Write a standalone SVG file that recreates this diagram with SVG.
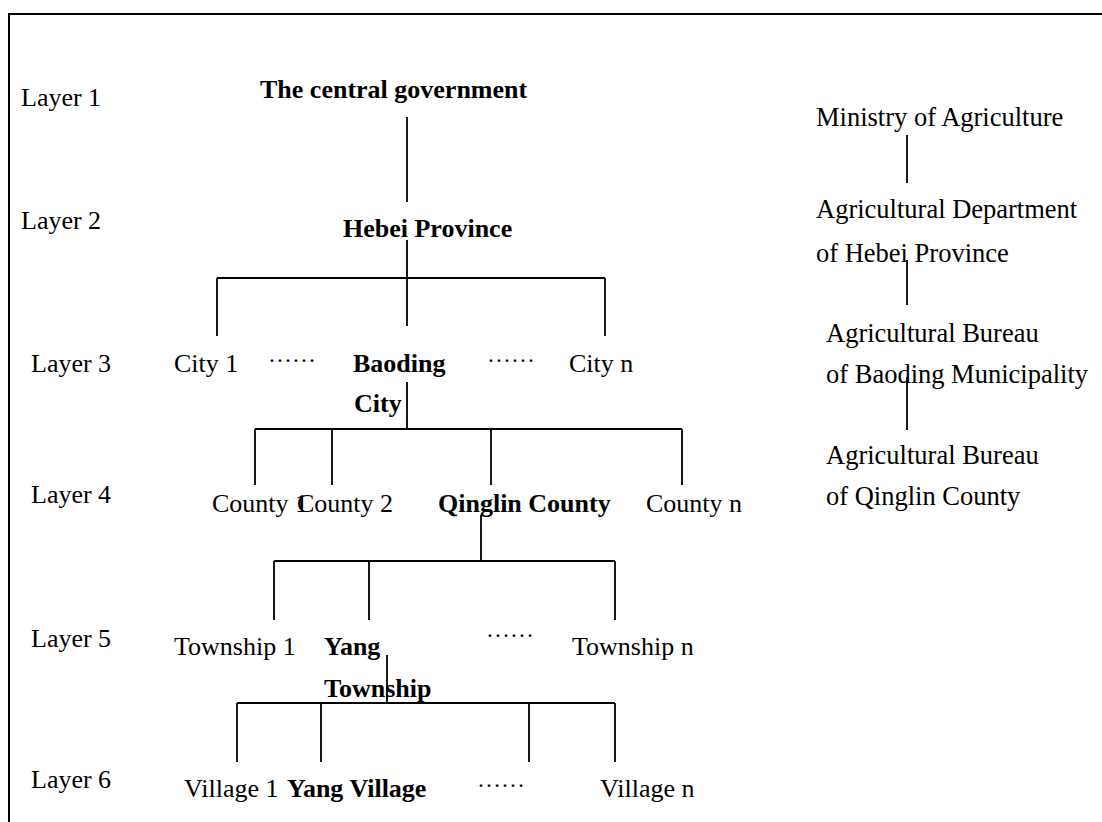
<svg xmlns="http://www.w3.org/2000/svg" width="1102" height="822" viewBox="0 0 1102 822">
<style>
text{font-family:"Liberation Serif","Times New Roman",serif;font-size:26px;fill:#000}
.b{font-weight:bold}
.r{font-size:26.5px}
.dots{font-size:24px}
.ln{stroke:#000;stroke-width:1.8;fill:none}
.frame{stroke:#000;stroke-width:2;fill:none}
</style>
<rect width="1102" height="822" fill="#fff"/>
<path class="frame" d="M9 822 V14 H1102"/>
<g id="layers">
<text x="21" y="106">Layer 1</text>
<text x="21" y="229">Layer 2</text>
<text x="31" y="372">Layer 3</text>
<text x="31" y="503">Layer 4</text>
<text x="31" y="647">Layer 5</text>
<text x="31" y="788">Layer 6</text>
</g>
<g id="connectors">
<path class="ln" d="M407 117 V202"/>
<path class="ln" d="M407 240 V326 M217 278 H605 M217 278 V336 M605 278 V336"/>
<path class="ln" d="M407 382 V429 M255 429 H682 M255 429 V485 M332 429 V485 M491 429 V485 M682 429 V485"/>
<path class="ln" d="M481 515 V561 M274 561 H615 M274 561 V620 M369 561 V620 M615 561 V620"/>
<path class="ln" d="M387 655 V703 M237 703 H615 M237 703 V762 M321 703 V762 M529 703 V762 M615 703 V762"/>
<path class="ln" d="M907 135 V183 M907 260 V305 M907 377 V430"/>
</g>
<g id="central"><text class="b" x="260" y="98">The central government</text></g>
<g id="hebei"><text class="b" x="343" y="237">Hebei Province</text></g>
<g id="city1"><text x="174" y="372">City 1</text></g>
<g id="dots3a"><text class="dots" x="268" y="362">……</text></g>
<g id="baoding"><text class="b" x="353" y="372">Baoding</text><text class="b" x="354" y="412">City</text></g>
<g id="dots3b"><text class="dots" x="487" y="362">……</text></g>
<g id="cityn"><text x="569" y="372">City n</text></g>
<g id="county1"><text x="212" y="512">County 1</text></g>
<g id="county2"><text x="297" y="512">County 2</text></g>
<g id="qinglin"><text class="b" x="438" y="512">Qinglin County</text></g>
<g id="countyn"><text x="646" y="512">County n</text></g>
<g id="township1"><text x="174" y="655">Township 1</text></g>
<g id="yang"><text class="b" x="324" y="655">Yang</text><text class="b" x="324" y="697">Township</text></g>
<g id="dots5"><text class="dots" x="486" y="637">……</text></g>
<g id="townshipn"><text x="572" y="655">Township n</text></g>
<g id="village1"><text x="184" y="797">Village 1</text></g>
<g id="yangvillage"><text class="b" x="287" y="797">Yang Village</text></g>
<g id="dots6"><text class="dots" x="477" y="787">……</text></g>
<g id="villagen"><text x="600" y="797">Village n</text></g>
<g id="ministry"><text class="r" x="816" y="126">Ministry of Agriculture</text></g>
<g id="dept"><text class="r" x="816" y="218">Agricultural Department</text><text class="r" x="816" y="262">of Hebei Province</text></g>
<g id="bureau-baoding"><text class="r" x="826" y="342">Agricultural Bureau</text><text class="r" x="826" y="383">of Baoding Municipality</text></g>
<g id="bureau-qinglin"><text class="r" x="826" y="464">Agricultural Bureau</text><text class="r" x="826" y="505">of Qinglin County</text></g>
</svg>
